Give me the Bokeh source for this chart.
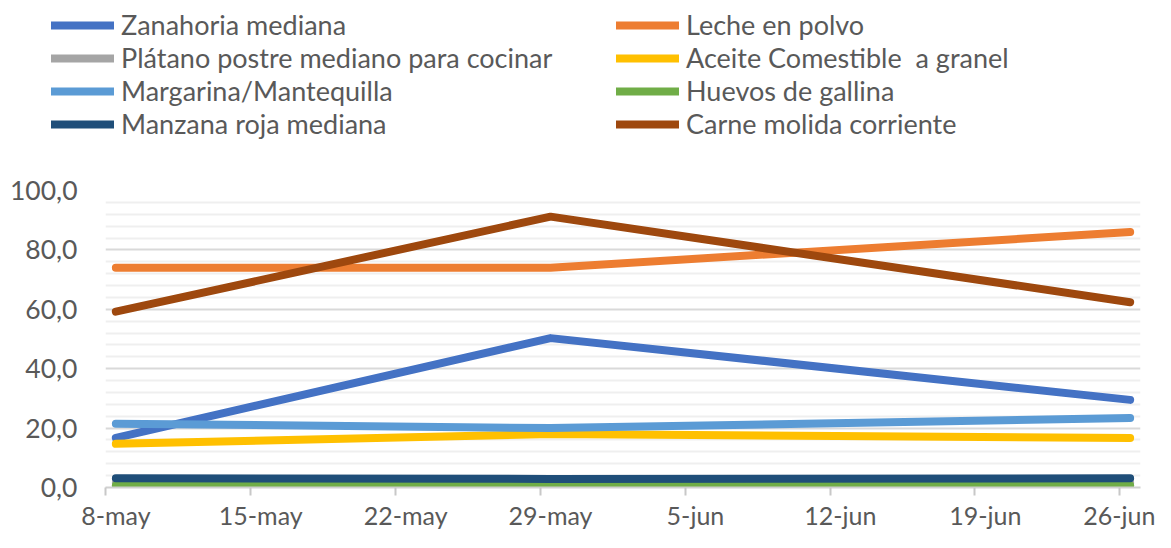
from bokeh.plotting import figure
from bokeh.models import FixedTicker, Legend, LegendItem, Range1d
from bokeh.embed import file_html
from bokeh.resources import INLINE

# ---- data ----
tick_labels = ["8-may", "15-may", "22-may", "29-may", "5-jun", "12-jun", "19-jun", "26-jun"]
tick_days = [0, 7, 14, 21, 28, 35, 42, 49]
obs_days = [0, 21, 49]  # 8-may, 29-may, 26-jun

zanahoria = [16.7, 50.3, 29.5]
leche = [74.0, 74.0, 86.0]
platano = [1.5, 1.5, 1.5]
aceite = [14.7, 18.0, 16.7]
margarina = [21.5, 20.0, 23.4]
huevos = [0.7, 0.7, 0.7]
manzana = [3.1, 2.9, 3.1]
carne = [59.2, 91.2, 62.4]

y_ticks = [0, 20, 40, 60, 80, 100]
y_minor = [4, 8, 12, 16, 24, 28, 32, 36, 44, 48, 52, 56, 64, 68, 72, 76, 84, 88, 92, 96]

series = [
    ("Zanahoria mediana", zanahoria, "#4472C4"),
    ("Leche en polvo", leche, "#ED7D31"),
    ("Plátano postre mediano para cocinar", platano, "#A5A5A5"),
    ("Aceite Comestible  a granel", aceite, "#FFC000"),
    ("Margarina/Mantequilla", margarina, "#5B9BD5"),
    ("Huevos de gallina", huevos, "#70AD47"),
    ("Manzana roja mediana", manzana, "#1F4E79"),
    ("Carne molida corriente", carne, "#9E480E"),
]

FONT = "Lato"
TXT = "#595959"
W = 1155
LEG_H = 150

xs = [d + 0.5 for d in obs_days]

# ---------- legend strip (same series, view scrolled away from the data) ----------
pl = figure(width=W, height=LEG_H, x_range=Range1d(200, 201), y_range=Range1d(200, 201),
            x_axis_type=None, y_axis_type=None, output_backend="svg", toolbar_location=None,
            min_border=0)
pl.outline_line_color = None
pl.xgrid.visible = False
pl.ygrid.visible = False
leg_r = {}
for name, vals, col in series:
    leg_r[name] = pl.line(xs, vals, line_width=8, line_color=col, line_cap="round")


def make_legend(names, loc):
    leg = Legend(items=[LegendItem(label=n, renderers=[leg_r[n]]) for n in names], location=loc)
    leg.label_text_font = FONT
    leg.label_text_font_size = "27px"
    leg.label_text_color = TXT
    leg.glyph_width = 63
    leg.glyph_height = 30
    leg.label_height = 30
    leg.label_standoff = 7
    leg.spacing = 0
    leg.padding = 0
    leg.margin = 0
    leg.border_line_color = None
    leg.background_fill_alpha = 0
    return leg


pl.add_layout(make_legend([series[i][0] for i in (0, 2, 4, 6)], (51, 10)))
pl.add_layout(make_legend([series[i][0] for i in (1, 3, 5, 7)], (616, 10)))

# ---------- chart ----------
p = figure(width=W, height=532 - LEG_H, x_range=Range1d(0, 50), y_range=Range1d(0, 100),
           output_backend="svg", toolbar_location=None,
           min_border_left=105, min_border_right=15, min_border_top=40, min_border_bottom=40)
p.outline_line_color = None

for name, vals, col in series:
    p.line(xs, vals, line_width=8, line_color=col, line_cap="round", line_join="round")

# y axis
yt = FixedTicker(ticks=y_ticks, minor_ticks=y_minor)
p.yaxis.ticker = yt
p.ygrid.ticker = yt
p.yaxis.major_label_overrides = {v: f"{v:.1f}".replace(".", ",") for v in y_ticks}
p.yaxis.axis_line_color = None
p.yaxis.major_tick_line_color = None
p.yaxis.minor_tick_line_color = None
p.yaxis.major_tick_out = 0
p.yaxis.major_tick_in = 0
p.yaxis.minor_tick_out = 0
p.yaxis.minor_tick_in = 0
p.yaxis.major_label_standoff = 28
p.yaxis.major_label_text_font = FONT
p.yaxis.major_label_text_font_size = "26.5px"
p.yaxis.major_label_text_color = TXT

p.ygrid.grid_line_color = "#d9d9d9"
p.ygrid.grid_line_width = 2
p.ygrid.minor_grid_line_color = "#efefef"
p.ygrid.minor_grid_line_width = 2
p.xgrid.grid_line_color = None

# x axis
xt = FixedTicker(ticks=[d + 0.5 for d in tick_days], minor_ticks=tick_days)
p.xaxis.ticker = xt
p.xaxis.major_label_overrides = {d + 0.5: lab for d, lab in zip(tick_days, tick_labels)}
p.xaxis.axis_line_color = "#d0d0d0"
p.xaxis.axis_line_width = 2
p.xaxis.major_tick_line_color = None
p.xaxis.major_tick_out = 0
p.xaxis.major_tick_in = 0
p.xaxis.minor_tick_line_color = "#c8c8c8"
p.xaxis.minor_tick_line_width = 2
p.xaxis.minor_tick_out = 8
p.xaxis.minor_tick_in = 0
p.xaxis.major_label_standoff = 4
p.xaxis.major_label_text_font = FONT
p.xaxis.major_label_text_font_size = "25px"
p.xaxis.major_label_text_color = TXT

open("out.html", "w").write(file_html([pl, p], INLINE))
